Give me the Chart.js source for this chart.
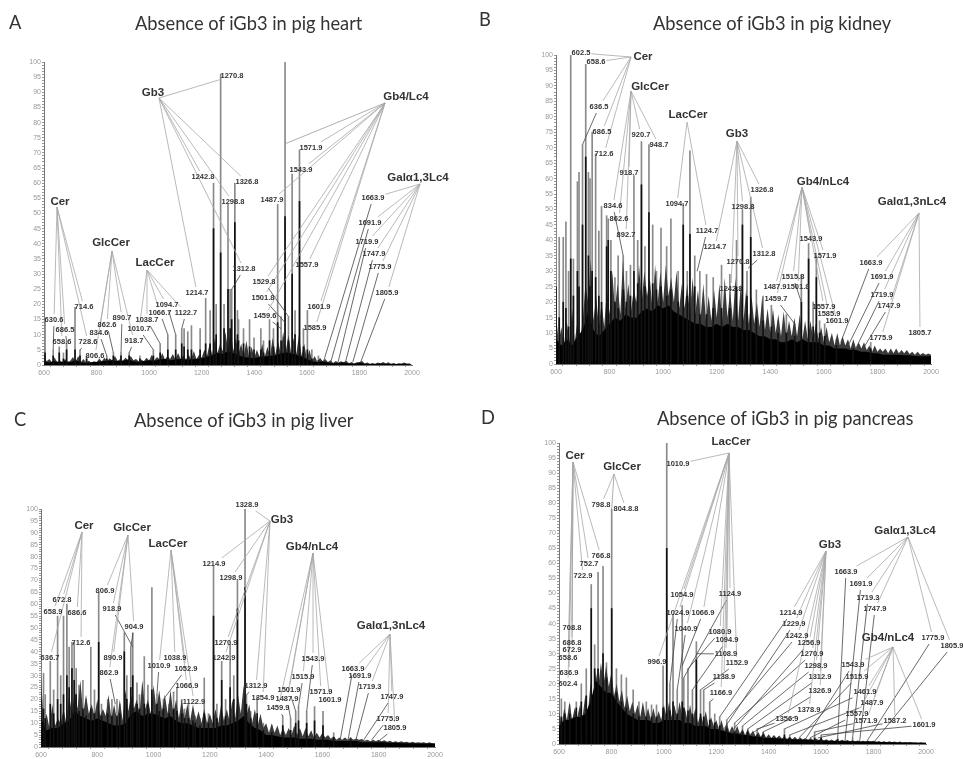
<!DOCTYPE html>
<html>
<head>
<meta charset="utf-8">
<title>Absence of iGb3 in pig tissues</title>
<script src="https://cdn.jsdelivr.net/npm/chart.js@4"></script>
<style>
  html, body { margin: 0; padding: 0; background: #fff; }
  #page { position: relative; width: 963px; height: 759px; overflow: hidden; }
  canvas { position: absolute; left: 0; top: 0; filter: blur(0.45px); }
  .head { position: absolute; font-family: Lato, "Open Sans", sans-serif; color: #333; font-size: 18.3px; white-space: nowrap; filter: blur(0.3px); }
</style>
</head>
<body>
<div id="page">
  <div class="head" style="left:9px;top:11px">A</div>
  <div class="head" style="left:135px;top:12px">Absence of iGb3 in pig heart</div>
  <div class="head" style="left:479px;top:8px">B</div>
  <div class="head" style="left:653px;top:12px">Absence of iGb3 in pig kidney</div>
  <div class="head" style="left:14px;top:408px">C</div>
  <div class="head" style="left:134px;top:409px">Absence of iGb3 in pig liver</div>
  <div class="head" style="left:481px;top:406px">D</div>
  <div class="head" style="left:657px;top:407px">Absence of iGb3 in pig pancreas</div>
</div>
<script>
// -------------------------
// Spectrum data
// -------------------------
const mzGrid = [
  600,620,640,660,680,700,720,740,760,780,
  800,820,840,860,880,900,920,940,960,980,
  1000,1020,1040,1060,1080,1100,1120,1140,1160,1180,
  1200,1220,1240,1260,1280,1300,1320,1340,1360,1380,
  1400,1420,1440,1460,1480,1500,1520,1540,1560,1580,
  1600,1620,1640,1660,1680,1700,1720,1740,1760,1780,
  1800,1820,1840,1860,1880,1900,1920,1940,1960,1980,
  2000
];
const mzFine = [
  600,610,620,630,640,650,660,670,680,690,
  700,710,720,730,740,750,760,770,780,790,
  800,810,820,830,840,850,860,870,880,890,
  900,910,920,930,940,950,960,970,980,990,
  1000,1010,1020,1030,1040,1050,1060,1070,1080,1090,
  1100,1110,1120,1130,1140,1150,1160,1170,1180,1190,
  1200,1210,1220,1230,1240,1250,1260,1270,1280,1290,
  1300,1310,1320,1330,1340,1350,1360,1370,1380,1390,
  1400,1410,1420,1430,1440,1450,1460,1470,1480,1490,
  1500,1510,1520,1530,1540,1550,1560,1570,1580,1590,
  1600,1610,1620,1630,1640,1650,1660,1670,1680,1690,
  1700,1710,1720,1730,1740,1750,1760,1770,1780,1790,
  1800,1810,1820,1830,1840,1850,1860,1870,1880,1890,
  1900,1910,1920,1930,1940,1950,1960,1970,1980,1990,
  2000
];

const heartBase = [
  1,.8,1.2,.9,1.3,.9,1.6,.9,.7,.9,
  1,1.2,1.4,1.6,1.2,1.4,1.8,1.2,1,1.3,
  1.6,1.4,1.8,2,1.6,1.8,2,1.7,1.8,2,
  2.2,2.6,3.2,4,3.6,4.5,4,3.2,2.6,2.4,
  2.2,2.6,2.8,3,3.2,3.8,4.2,3.8,3.4,2.8,
  2,1.2,.9,1.2,.8,.6,.7,.8,.5,.4,
  .8,.4,.3,.3,.5,.4,.3,.3,.4,.4,
  0
];
const heartFuzz = [
  3,1.2,2,1,2.5,1,1.6,.8,2,1,
  1.4,2.6,1,3,.9,2,.8,1.4,.8,1.2,
  1,2,1.2,2.4,1.3,2.2,1.5,3,1.4,2,
  1.4,2.4,1.6,3,1.6,2,1.2,1.8,1.2,2.4,
  1.5,3.4,1.6,2.6,1.8,4,1.8,3,2,3.6,
  1.8,4,2,3.2,1.8,3.4,2,4.6,2,3.4,
  2.4,5,3,7,3.4,9,4,7,4.5,11,
  5,12,4.5,9,3.6,7,3,8,2.6,6,
  2.4,5,2.6,7,2.8,6,3,9,3.4,8,
  4,11,4.5,10,4,9,3.6,10,3,7,
  2,5,1.4,3,1,2.4,1.2,2,1,1.6,
  .7,1.3,.8,1.2,.9,1.4,.6,1,.5,.9,
  .9,1.3,.5,.8,.4,.7,.4,.8,.5,1,
  .5,.9,.4,.7,.3,.6,.4,.8,.4,.6,
  0
];
const heartPeakMz = [604,635,658,674,686,718,737,762,811,839,864,893,924,965,1016,1042,1071,1101,1124,1133,1147,1161,1194,1215,1232,1245,1255,1272,1285,1300,1308,1314,1326,1336,1340,1359,1382,1399,1425,1435,1458,1473,1489,1502,1517,1530,1544,1555,1572,1587,1602,1619,1644];
const heartPeakTop = [15,5,6,4,8,19,5,3,2,3,4,4,4,3,5,7,10,10,12,12,11,13,12,22,18,60,20,96,20,53,25,25,60,18,15,12,15,9,12,8,15,12,53,16,100,16,63,18,71,12,18,5,3];
const heartPeakCore = [4,3,4,2,5,5,3,2,1,2,3,3,3,2,3,4,5,5,7,6,5,5,5,7,7,45,10,37,12,25,12,15,47,10,8,7,6,5,5,4,8,6,14,8,49,8,30,10,54,6,5,2,1.5];

const kidneyBase = [
  8,6,8,6,9,11,17,11,9,11,
  13,15,14,16,15,15,17,18,17,19,
  18,19,17,16,15,14,13,13,12,12,
  13,12,13,12,12,11,11,10,9,9,
  8,8,7,7,8,7,8,7,7,7,
  6,6,5,5,5,4.5,4.5,4,4,3.5,
  3.5,3,3,3,3,2.8,2.8,2.6,2.5,2.5,
  2.5
];
const kidneyFuzz = [
  16,7,12,6,14,7,18,7,14,8,
  14,26,20,34,14,22,12,20,12,24,
  16,30,18,26,16,34,18,26,17,24,
  20,32,20,30,22,28,18,32,20,30,
  20,32,22,28,20,30,18,26,18,26,
  16,28,16,24,15,26,14,22,14,24,
  15,26,14,28,15,24,14,28,14,26,
  14,24,13,22,13,20,12,22,11,18,
  10,18,10,16,9,17,9,14,9,15,
  9,16,8,14,8,14,8,13,8,12,
  7,12,7,10,6,10,6,9,6,8,
  5,8,5,7,5,7,4.5,6,4,6,
  4,5,4,5,3.5,5,3.5,5,3.5,4.5,
  3.5,4.5,3.2,4,3,4,3,3.6,3,3.4,
  3
];
const kidneyPeakMz = [600,612,627,637,647,655,665,680,686,699,711,721,727,735,748,760,770,789,795,805,820,832,851,863,878,891,905,919,932,947,961,975,992,1013,1029,1056,1075,1090,1100,1118,1137,1162,1187,1218,1249,1274,1296,1313,1327,1348,1373,1404,1429,1460,1491,1516,1543,1560,1572,1584,1603,1647,1709,1775];
const kidneyPeakTop = [50,41,41,46,30,100,34,59,62,71,97,62,60,75,68,43,51,48,47,40,28,35,35,30,32,61,40,72,38,71,45,30,44,38,47,30,52,30,69,35,30,29,28,32,29,40,50,30,54,24,22,19,14,16,13,29,39,20,35,14,13,8,6,7];
const kidneyPeakCore = [25,15,20,18,12,34,22,30,25,45,67,35,25,30,28,22,20,38,40,30,20,18,24,20,22,30,26,58,25,49,26,24,25,22,24,20,45,22,42,25,16,16,18,18,18,25,45,22,41,15,14,12,10,10,9,20,34,12,28,10,9,6,5,5];

const liverBase = [
  12,7,8,8,10,11,15,13,12,11,
  12,11,10,9,9,10,14,15,13,14,
  14,13,12,13,11,10,10,9,8,8,
  8,8,9,9,10,11,13,10,8,7,
  5,5,4.5,4,4,4,3.5,3.5,3.5,3,
  3,3,2.5,2.5,2.5,2.5,2.5,2,2,2,
  2,2,1.8,1.8,1.6,1.6,1.6,1.5,1.5,1.5,
  1.5
];
const liverFuzz = [
  30,9,14,8,18,9,12,10,16,10,
  22,14,24,16,28,14,22,14,18,13,
  20,13,16,13,22,12,18,11,20,11,
  24,15,22,16,20,14,28,16,20,14,
  26,16,24,15,22,14,24,14,20,12,
  20,12,18,11,18,11,15,10,16,10,
  14,10,16,10,18,11,16,11,20,12,
  22,14,26,13,18,10,16,9,14,8,
  10,6,10,6,9,5,8,5,8,5,
  9,5,8,4.5,8,4.5,7,4,6,4,
  6,4,5,3.5,4.5,3,4,3,4,3,
  4,3,3.6,3,3.4,2.6,3,2.4,3,2.4,
  3,2.4,2.8,2.2,2.6,2,2.4,2,2.4,2,
  2.2,1.8,2.2,1.8,2,1.8,2,1.6,2,1.6,
  1.5
];
const liverPeakMz = [600,609,615,633,645,659,670,680,692,700,710,718,725,735,749,760,777,790,805,815,837,852,870,880,896,905,919,926,941,950,967,980,994,1012,1020,1035,1055,1071,1083,1100,1110,1124,1140,1148,1165,1180,1195,1213,1225,1242,1256,1272,1285,1298,1325,1330,1345,1368,1390,1420,1459,1487,1505,1515,1544,1572,1602,1640,1700];
const liverPeakTop = [33,31,22,36,24,55,30,55,60,42,44,44,33,26,28,20,42,24,65,18,20,20,20,18,48,30,42,48,27,22,38,26,67,22,20,20,18,23,25,20,16,18,14,13,12,29,14,76,18,36,20,43,30,70,100,22,15,21,10,9,13,12,15,17,15,17,15,6,4];
const liverPeakCore = [20,16,12,18,14,20,18,22,30,25,33,28,22,15,16,13,16,14,44,13,14,13,13,14,40,20,25,30,18,16,18,18,24,18,15,16,14,16,15,14,12,12,11,10,9,14,10,55,12,28,13,25,20,58,67,18,12,14,7,6,9,7,10,11,10,11,9,4,3];

const pancreasBase = [
  6,8,8,9,9,10,14,21,19,17,
  17,14,12,10,9,8,8,8,7,7,
  8,8,8,8,7,7,6,6,6,5,
  5,4.5,4,3.5,3.5,3,3,2.5,2.5,2,
  2,2,1.8,1.6,1.6,1.5,1.5,1.4,1.3,1.2,
  1.2,1.1,1,1,1,.9,.9,.8,.8,.8,
  .8,.7,.7,.6,.6,.5,.5,.5,.4,.4,
  .4
];
const pancreasFuzz = [
  11,6,12,8,14,8,12,9,13,9,
  16,10,20,14,24,19,27,20,26,19,
  24,16,20,14,18,12,16,11,14,10,
  13,9,14,9,12,8,12,8,11,8,
  13,9,14,9,13,9,14,9,12,8,
  13,8,12,7,10,7,11,6,9,6,
  8,5,8,4.5,7,4,6,4,6,3.5,
  5,3,5,3,4.5,2.6,4,2.4,4,2.2,
  3.2,2,3,2,2.8,1.8,2.6,1.7,2.4,1.6,
  2.4,1.5,2.2,1.5,2,1.4,2,1.3,1.8,1.3,
  1.8,1.2,1.6,1.1,1.5,1,1.5,1,1.4,1,
  1.3,.9,1.2,.9,1.2,.8,1.1,.8,1.1,.8,
  1.1,.7,1,.7,.9,.6,.9,.6,.8,.5,
  .8,.5,.7,.5,.7,.5,.6,.4,.6,.4,
  .4
];
const pancreasPeakMz = [609,622,641,666,685,704,723,736,749,768,781,801,819,838,857,883,905,933,953,972,997,1011,1023,1035,1051,1070,1076,1092,1109,1124,1140,1152,1175,1194,1213,1240,1270,1300,1320,1356,1378,1460,1480,1575,1600,1663,1720];
const pancreasPeakTop = [15,14,13,14,20,25,53,33,57,59,27,78,25,23,22,18,14,14,13,13,26,100,20,43,18,46,22,25,18,34,18,18,14,10,9,8,7,6,5,5,4,5,3,4,3,2,2];
const pancreasPeakCore = [9,10,10,12,14,16,45,25,25,30,22,45,17,14,12,10,9,9,9,9,12,65,11,14,10,14,12,11,10,28,10,9,8,7,6,5,4,4,4,3,3,3,2,2,2,1.5,1];

// tick values
const xLabelTicks = [600, 800, 1000, 1200, 1400, 1600, 1800, 2000];

// -------------------------
// Callouts: group name, where its lines meet, and its peak labels
// label rows are [text, x, y, peak m/z, peak height]; no peak means no lower line
// -------------------------
const heartCallouts = [
  { name: 'Cer', nx: 60, ny: 202, vx: 57, vy: 207, labels: [
    ['630.6', 54, 320, 635, 5], ['686.5', 65, 330, 686, 8], ['658.6', 62, 342, 658, 6],
    ['714.6', 84, 307, 718, 19], ['728.6', 88, 342, 737, 5] ] },
  { name: 'GlcCer', nx: 111, ny: 243, vx: 112, vy: 251, labels: [
    ['806.6', 95, 356, 811, 2], ['834.6', 99, 333, 839, 3], ['862.6', 107, 325, 864, 4],
    ['890.7', 122, 318, 893, 4], ['918.7', 134, 341, 924, 4] ] },
  { name: 'LacCer', nx: 155, ny: 263, vx: 147, vy: 270, labels: [
    ['1010.7', 139, 329, 1016, 5], ['1038.7', 147, 320, 1042, 7], ['1066.7', 160, 313, 1071, 10],
    ['1094.7', 167, 305, 1101, 10], ['1122.7', 186, 313, 1124, 12] ] },
  { name: 'Gb3', nx: 153, ny: 93, vx: 159, vy: 98, labels: [
    ['1270.8', 232, 76], ['1242.8', 203, 177], ['1298.8', 233, 202], ['1326.8', 247, 182],
    ['1312.8', 244, 269, 1314, 25], ['1214.7', 197, 293] ] },
  { name: 'Gb4/Lc4', nx: 406, ny: 97, vx: 385, vy: 103, labels: [
    ['', 0, 0, 1517, 73], ['1571.9', 311, 148], ['1543.9', 301, 170], ['1487.9', 272, 200],
    ['1557.9', 307, 265], ['1529.8', 264, 282, 1530, 16], ['1501.8', 263, 298, 1517, 14],
    ['1459.6', 265, 316, 1502, 12], ['1601.9', 319, 307], ['1585.9', 315, 328] ] },
  { name: 'Galα1,3Lc4', nx: 418, ny: 178, vx: 420, vy: 184, labels: [
    ['1663.9', 373, 198, 1663, 1], ['1691.9', 370, 223, 1691, 1], ['1719.9', 367, 242, 1719, 1],
    ['1747.9', 374, 254, 1747, 1], ['1775.9', 380, 267, 1775, 1], ['1805.9', 387, 293, 1805, 1] ] }
];
const kidneyCallouts = [
  { name: 'Cer', nx: 643, ny: 57, vx: 631, vy: 57, labels: [
    ['602.5', 581, 53], ['658.6', 596, 62], ['636.5', 599, 107, 699, 71], ['686.5', 602, 132], ['712.6', 604, 154] ] },
  { name: 'GlcCer', nx: 650, ny: 87, vx: 631, vy: 91, labels: [
    ['834.6', 613, 206, 851, 35], ['862.6', 619, 219], ['892.7', 626, 235], ['918.7', 629, 173],
    ['920.7', 641, 135], ['948.7', 659, 145] ] },
  { name: 'LacCer', nx: 688, ny: 115, vx: 687, vy: 122, labels: [
    ['1094.7', 677, 204], ['1124.7', 707, 231, 1127, 30] ] },
  { name: 'Gb3', nx: 737, ny: 134, vx: 737, vy: 141, labels: [
    ['1214.7', 715, 247], ['1326.8', 762, 190], ['1298.8', 743, 207], ['1312.8', 764, 254, 1317, 31],
    ['1270.8', 738, 262], ['1242.8', 731, 289] ] },
  { name: 'Gb4/nLc4', nx: 823, ny: 182, vx: 802, vy: 187, labels: [
    ['1543.9', 811, 239], ['1571.9', 825, 256], ['1515.8', 793, 277, 1516, 20], ['1487.9', 775, 287],
    ['1501.8', 798, 287], ['1459.7', 776, 299, 1491, 13], ['1557.9', 824, 307], ['1585.9', 829, 314], ['1601.9', 837, 321] ] },
  { name: 'Galα1,3nLc4', nx: 912, ny: 202, vx: 919, vy: 213, labels: [
    ['1663.9', 871, 263, 1663, 7], ['1691.9', 882, 277, 1691, 6], ['1719.9', 882, 295, 1719, 5],
    ['1747.9', 889, 306, 1747, 5], ['1775.9', 881, 338], ['1805.7', 920, 333] ] }
];
const liverCallouts = [
  { name: 'Cer', nx: 84, ny: 526, vx: 82, vy: 532, labels: [
    ['636.7', 50, 658], ['658.9', 53, 612], ['672.8', 62, 600], ['686.6', 77, 613], ['712.6', 81, 643] ] },
  { name: 'GlcCer', nx: 132, ny: 528, vx: 128, vy: 535, labels: [
    ['806.9', 105, 591], ['918.9', 112, 609, 926, 42], ['890.9', 113, 658], ['862.9', 109, 673, 864, 18], ['904.9', 134, 627, 919, 42] ] },
  { name: 'LacCer', nx: 168, ny: 544, vx: 171, vy: 550, labels: [
    ['1010.9', 159, 666, 1012, 22], ['1038.9', 175, 658], ['1052.9', 186, 669, 1035, 20],
    ['1066.9', 187, 686, 1071, 23], ['1122.9', 194, 702] ] },
  { name: 'Gb3', nx: 282, ny: 520, vx: 270, vy: 521, labels: [
    ['1328.9', 247, 505], ['1214.9', 214, 564], ['1298.9', 231, 578], ['1270.9', 226, 643],
    ['1242.9', 224, 658], ['1312.9', 256, 686, 1330, 22], ['1354.9', 263, 698, 1368, 21] ] },
  { name: 'Gb4/nLc4', nx: 312, ny: 547, vx: 313, vy: 553, labels: [
    ['1543.9', 313, 659, 1544, 15], ['1515.9', 303, 677, 1515, 17], ['1501.9', 289, 690, 1505, 15],
    ['1487.9', 287, 699, 1487, 12], ['1459.9', 278, 708, 1459, 13], ['1571.9', 321, 692], ['1601.9', 330, 700] ] },
  { name: 'Galα1,3nLc4', nx: 391, ny: 626, vx: 390, vy: 634, labels: [
    ['1663.9', 353, 669, 1663, 3], ['1691.9', 360, 676, 1691, 3], ['1719.3', 370, 687, 1719, 3],
    ['1747.9', 392, 697, 1747, 3], ['1775.9', 388, 719, 1775, 3], ['1805.9', 395, 728, 1805, 3] ] }
];
const pancreasCallouts = [
  { name: 'Cer', nx: 575, ny: 456, vx: 573, vy: 462, labels: [
    ['766.8', 601, 556], ['752.7', 589, 564], ['722.9', 583, 576], ['708.8', 572, 628], ['686.8', 572, 643],
    ['672.9', 572, 650], ['658.6', 568, 658], ['636.9', 569, 673], ['602.4', 568, 684] ] },
  { name: 'GlcCer', nx: 622, ny: 467, vx: 614, vy: 474, labels: [
    ['798.8', 601, 505], ['804.8.8', 626, 509], ['', 0, 0, 801, 78] ] },
  { name: 'LacCer', nx: 731, ny: 442, vx: 729, vy: 453, labels: [
    ['1010.9', 678, 464], ['996.9', 657, 662], ['1054.9', 682, 595], ['1024.9', 678, 613, 1023, 20],
    ['1066.9', 703, 613, 1070, 26], ['1040.9', 686, 629, 1051, 18], ['1124.9', 730, 594, 1076, 22],
    ['1080.9', 720, 632, 1092, 25], ['1094.9', 727, 640, 1109, 18], ['1108.9', 726, 654, 1124, 30],
    ['1152.9', 737, 663, 1140, 18], ['1138.9', 724, 677, 1152, 18], ['1166.9', 721, 693, 1175, 14] ] },
  { name: 'Gb3', nx: 830, ny: 545, vx: 826, vy: 551, labels: [
    ['1214.9', 791, 613, 1213, 9], ['1229.9', 794, 624, 1229, 5], ['1242.9', 797, 636, 1240, 8],
    ['1256.9', 809, 643, 1256, 4], ['1270.9', 812, 654, 1270, 7], ['1298.9', 816, 666, 1300, 6],
    ['1312.9', 820, 677, 1320, 5], ['1326.9', 820, 691, 1326, 3], ['1356.9', 787, 719, 1356, 5], ['1378.9', 809, 710, 1378, 4] ] },
  { name: 'Galα1,3Lc4', nx: 905, ny: 531, vx: 908, vy: 537, labels: [
    ['1663.9', 846, 572, 1663, 2], ['1691.9', 861, 584, 1691, 1], ['1719.3', 868, 598, 1720, 2],
    ['1747.9', 875, 609, 1747, 1], ['1775.9', 933, 638, 1775, 1], ['1805.9', 952, 646, 1805, 1] ] },
  { name: 'Gb4/nLc4', nx: 888, ny: 638, vx: 893, vy: 647, labels: [
    ['1543.9', 853, 665, 1543, 2], ['1515.9', 857, 677, 1515, 2], ['1461.9', 865, 692, 1460, 5],
    ['1487.9', 872, 703, 1480, 3], ['1557.9', 857, 714, 1557, 2], ['1571.9', 866, 721, 1575, 4],
    ['1587.2', 895, 721, 1587, 2], ['1601.9', 924, 725, 1600, 3] ] }
];

// -------------------------
// Drawing
// -------------------------
function calloutPlugin(groups) {
  return {
    id: 'callouts',
    afterDatasetsDraw(chart) {
      const ctx = chart.ctx;
      const xs = chart.scales.x;
      const ys = chart.scales.y;
      ctx.save();
      ctx.lineWidth = 0.8;
      ctx.textAlign = 'center';
      ctx.textBaseline = 'middle';

      // stop a line at the edge of the label box
      function edge(px, py, cx, cy, hw) {
        const dx = px - cx, dy = py - cy;
        const t = Math.min(hw / Math.max(Math.abs(dx), 0.01), 6 / Math.max(Math.abs(dy), 0.01), 1);
        return [cx + dx * t, cy + dy * t];
      }
      function seg(a, b, c) {
        ctx.strokeStyle = c;
        ctx.beginPath();
        ctx.moveTo(a[0], a[1]);
        ctx.lineTo(b[0], b[1]);
        ctx.stroke();
      }

      groups.forEach(g => {
        g.labels.forEach(l => {
          const hasPeak = l[3] !== undefined;
          const peak = hasPeak ? [xs.getPixelForValue(l[3]), ys.getPixelForValue(l[4])] : null;
          if (!l[0]) {
            seg([g.vx, g.vy], peak, '#999');
            return;
          }
          ctx.font = 'bold 7.5px "Liberation Sans", Arial, sans-serif';
          const hw = ctx.measureText(l[0]).width / 2 + 1;
          seg([g.vx, g.vy], edge(g.vx, g.vy, l[1], l[2], hw), '#a8a8a8');
          if (peak) seg(edge(peak[0], peak[1], l[1], l[2], hw), peak, '#444');
        });
      });
      groups.forEach(g => {
        ctx.fillStyle = '#333';
        ctx.font = 'bold 7.5px "Liberation Sans", Arial, sans-serif';
        g.labels.forEach(l => { if (l[0]) ctx.fillText(l[0], l[1], l[2]); });
        ctx.font = 'bold 11.5px "Liberation Sans", Arial, sans-serif';
        ctx.fillText(g.name, g.nx, g.ny);
      });
      ctx.restore();
    }
  };
}

function pairs(xs, ys) {
  return xs.map((x, i) => ({ x: x, y: ys[i] }));
}

function makePanel(box, base, fuzz, peakMz, peakTop, peakCore, groups) {
  const canvas = document.createElement('canvas');
  canvas.width = 963;
  canvas.height = 759;
  document.getElementById('page').appendChild(canvas);
  const yAxisWidth = 26;
  const xAxisHeight = 20;

  new Chart(canvas.getContext('2d'), {
    type: 'bar',
    data: {
      datasets: [
        { type: 'bar', data: pairs(peakMz, peakTop), backgroundColor: '#8a8a8a', barThickness: 1, order: 4 },
        { type: 'line', data: pairs(mzFine, fuzz), borderWidth: 0, pointRadius: 0, backgroundColor: '#3a3a3a', fill: 'origin', order: 3 },
        { type: 'line', data: pairs(mzGrid, base), borderWidth: 0, pointRadius: 0, backgroundColor: '#000', fill: 'origin', order: 2 },
        { type: 'bar', data: pairs(peakMz, peakCore), backgroundColor: '#111', barThickness: 1, order: 1 }
      ]
    },
    options: {
      responsive: false,
      animation: false,
      devicePixelRatio: 1,
      events: [],
      layout: {
        padding: {
          left: box.left - yAxisWidth,
          right: 963 - box.right,
          top: box.top,
          bottom: 759 - box.bottom - xAxisHeight
        }
      },
      datasets: { bar: { grouped: false } },
      plugins: { legend: { display: false }, title: { display: false }, tooltip: { enabled: false } },
      scales: {
        x: {
          type: 'linear',
          offset: false,
          min: 600,
          max: 2000,
          afterFit(s) { s.height = xAxisHeight; },
          border: { color: '#777' },
          grid: { drawOnChartArea: false, tickLength: 2, tickColor: '#999' },
          ticks: {
            stepSize: 50,
            autoSkip: false,
            maxRotation: 0,
            padding: 2,
            color: '#999',
            font: { family: 'Liberation Sans', size: 7 },
            callback: v => xLabelTicks.includes(v) ? String(v) : ''
          }
        },
        y: {
          min: 0,
          max: 100,
          afterFit(s) { s.width = yAxisWidth; },
          border: { color: '#777' },
          grid: { drawOnChartArea: false, tickLength: 2, tickColor: '#999' },
          ticks: {
            stepSize: 1,
            autoSkip: false,
            padding: 1,
            color: '#999',
            font: { family: 'Liberation Sans', size: 7 },
            callback: v => v % 5 === 0 ? String(v) : ''
          }
        }
      }
    },
    plugins: [calloutPlugin(groups)]
  });
}

makePanel({ left: 44, right: 412, top: 62, bottom: 365 }, heartBase, heartFuzz, heartPeakMz, heartPeakTop, heartPeakCore, heartCallouts);
makePanel({ left: 556, right: 931, top: 55, bottom: 364 }, kidneyBase, kidneyFuzz, kidneyPeakMz, kidneyPeakTop, kidneyPeakCore, kidneyCallouts);
makePanel({ left: 41, right: 435, top: 509, bottom: 747 }, liverBase, liverFuzz, liverPeakMz, liverPeakTop, liverPeakCore, liverCallouts);
makePanel({ left: 559, right: 926, top: 443, bottom: 744 }, pancreasBase, pancreasFuzz, pancreasPeakMz, pancreasPeakTop, pancreasPeakCore, pancreasCallouts);
</script>
</body>
</html>
